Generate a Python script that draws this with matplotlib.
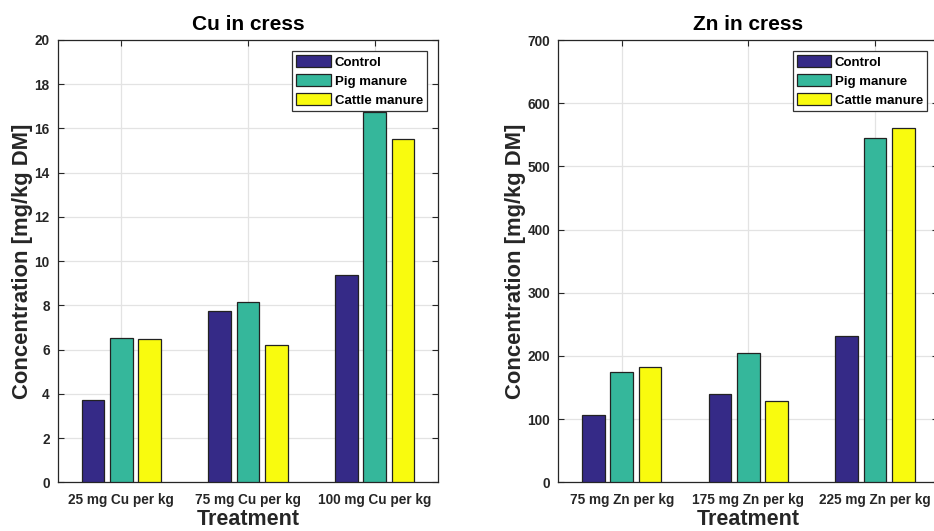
import numpy as np
import matplotlib.pyplot as plt

plt.rcParams['font.family'] = ['Liberation Sans', 'DejaVu Sans']
plt.rcParams['font.weight'] = 'bold'

# concentrations in cress, mg/kg DM
series = ['Control', 'Pig manure', 'Cattle manure']
colors = ['#352a87', '#35b79b', '#f9fb0e']

cu_labels = ['25 mg Cu per kg', '75 mg Cu per kg', '100 mg Cu per kg']
cu_control = [3.7, 7.74, 9.37]
cu_pig = [6.52, 8.16, 16.75]
cu_cattle = [6.48, 6.23, 15.53]

zn_labels = ['75 mg Zn per kg', '175 mg Zn per kg', '225 mg Zn per kg']
zn_control = [107, 139, 231]
zn_pig = [175, 205, 545]
zn_cattle = [182, 129, 561]

fig = plt.figure(figsize=(9.34, 5.31), dpi=100)
W, H = 934, 531
ax1 = fig.add_axes([58 / W, 1 - 482.3 / H, 380 / W, 442.3 / H])
ax2 = fig.add_axes([558.4 / W, 1 - 482.3 / H, 380 / W, 442.3 / H])

dark = '#262626'


def grouped_bars(ax, labels, data, ymax, ystep, title):
    x = np.arange(1, len(labels) + 1)
    step = 0.224
    width = 0.179
    for i, (vals, name, c) in enumerate(zip(data, series, colors)):
        ax.bar(x + (i - 1) * step, vals, width, color=c, edgecolor='#222222',
               linewidth=0.9, label=name, zorder=3)
    ax.set_xlim(0.5, len(labels) + 0.5)
    ax.set_ylim(0, ymax)
    ax.set_xticks(x)
    ax.set_xticklabels(labels)
    ax.set_yticks(np.arange(0, ymax + ystep / 2, ystep))
    ax.grid(True, color='#e3e3e3', linewidth=0.9, zorder=0)
    ax.set_axisbelow(True)
    ax.tick_params(direction='in', length=4, width=0.8, color=dark,
                   top=True, right=True, labelsize=9.8, labelcolor=dark)
    ax.tick_params(axis='x', pad=8)
    ax.tick_params(axis='y', pad=6)
    for lab in ax.get_xticklabels() + ax.get_yticklabels():
        lab.set_fontweight('bold')
    for sp in ax.spines.values():
        sp.set_color(dark)
        sp.set_linewidth(0.9)
    ax.set_title(title, fontsize=15, fontweight='bold', pad=7)
    ax.set_xlabel('Treatment', fontsize=15.5, fontweight='bold', color=dark, labelpad=1)
    ax.set_ylabel('Concentration [mg/kg DM]', fontsize=15.8, fontweight='bold',
                  color=dark, labelpad=1)
    leg = ax.legend(loc='upper right', fontsize=9.5, frameon=True, fancybox=False,
                    framealpha=1, edgecolor='#333333', handlelength=2.6,
                    handleheight=1.05, handletextpad=0.3, labelspacing=0.4,
                    borderpad=0.3, borderaxespad=0.85)
    leg.get_frame().set_linewidth(0.9)
    for t in leg.get_texts():
        t.set_fontweight('bold')


grouped_bars(ax1, cu_labels, [cu_control, cu_pig, cu_cattle], 20, 2, 'Cu in cress')
grouped_bars(ax2, zn_labels, [zn_control, zn_pig, zn_cattle], 700, 100, 'Zn in cress')

fig.savefig('out.png', dpi=100)
